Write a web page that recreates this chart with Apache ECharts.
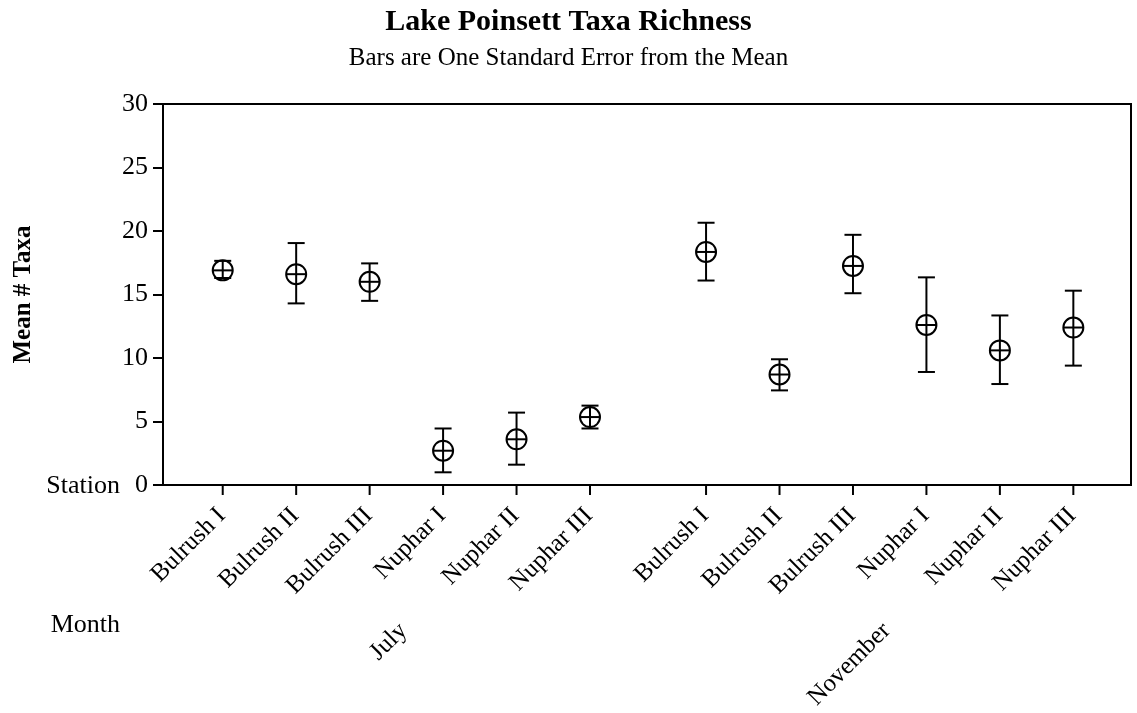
<!DOCTYPE html>
<html>
<head>
<meta charset="utf-8">
<script src="https://cdn.jsdelivr.net/npm/echarts@6/dist/echarts.min.js"></script>
<style>
  html, body { margin: 0; padding: 0; background: #fff; }
  #chart { width: 1137px; height: 713px; }
</style>
</head>
<body>
<div id="chart"></div>
<script>
// data
const months = ['July', 'November']
const stations = ['Bulrush I', 'Bulrush II', 'Bulrush III', 'Nuphar I', 'Nuphar II', 'Nuphar III']
const meanJuly = [16.9, 16.6, 16.0, 2.7, 3.6, 5.35]
const lowJuly = [16.3, 14.3, 14.5, 1.0, 1.6, 4.45]
const highJuly = [17.65, 19.05, 17.45, 4.45, 5.7, 6.25]
const meanNov = [18.35, 8.7, 17.25, 12.6, 10.6, 12.4]
const lowNov = [16.1, 7.45, 15.1, 8.9, 7.95, 9.4]
const highNov = [20.65, 9.9, 19.7, 16.35, 13.35, 15.3]
const yTicks = [0, 5, 10, 15, 20, 25, 30]

// where each month group starts on the x scale (groups have a gap between them)
const groupStart = [1, 7.58]

const FONT = '"Liberation Serif", "DejaVu Serif", serif'

let points = []
const groups = [[meanJuly, lowJuly, highJuly], [meanNov, lowNov, highNov]]
groups.forEach((g, gi) => {
  stations.forEach((s, i) => {
    points.push([groupStart[gi] + i, g[0][i], g[1][i], g[2][i], s])
  })
})
let monthPoints = months.map((m, gi) => [groupStart[gi] + (stations.length - 1) / 2, 0, m])

let chart = echarts.init(document.getElementById('chart'))
let option = {
  animation: false,
  backgroundColor: '#fff',
  title: {
    text: 'Lake Poinsett Taxa Richness',
    subtext: 'Bars are One Standard Error from the Mean',
    left: 'center',
    top: 2,
    itemGap: 9,
    textStyle: { fontFamily: FONT, fontWeight: 'bold', fontSize: 30, color: '#000' },
    subtextStyle: { fontFamily: FONT, fontSize: 25, color: '#000' }
  },
  grid: {
    left: 163,
    right: 6,
    top: 104,
    bottom: 228,
    show: true,
    borderColor: '#000',
    borderWidth: 2,
    backgroundColor: 'transparent'
  },
  xAxis: {
    type: 'value',
    min: 0.187,
    max: 13.365,
    axisLine: { show: true, lineStyle: { color: '#000', width: 2 } },
    axisTick: { show: false },
    axisLabel: { show: false },
    splitLine: { show: false }
  },
  yAxis: {
    type: 'value',
    min: yTicks[0],
    max: yTicks[yTicks.length - 1],
    interval: 5,
    name: 'Mean # Taxa',
    nameLocation: 'middle',
    nameGap: 127,
    nameTextStyle: { fontFamily: FONT, fontWeight: 'bold', fontSize: 25, color: '#000' },
    axisLine: { show: true, lineStyle: { color: '#000', width: 2 } },
    axisTick: { show: true, length: 10, lineStyle: { color: '#000', width: 2 } },
    axisLabel: { fontFamily: FONT, fontSize: 26, color: '#000', margin: 15 },
    splitLine: { show: false }
  },
  graphic: [
    { type: 'text', x: 120, y: 486, style: { text: 'Station', font: '26px ' + FONT, fill: '#000', align: 'right', verticalAlign: 'middle' } },
    { type: 'text', x: 120, y: 625, style: { text: 'Month', font: '26px ' + FONT, fill: '#000', align: 'right', verticalAlign: 'middle' } }
  ],
  series: [
    {
      type: 'custom',
      clip: false,
      data: points,
      renderItem: (params, api) => {
        let x = api.value(0)
        let c = api.coord([x, api.value(1)])
        let lo = api.coord([x, api.value(2)])
        let hi = api.coord([x, api.value(3)])
        let base = api.coord([x, 0])
        let ls = { stroke: '#000', lineWidth: 2, fill: null }
        let r = 10
        let cap = 8.5
        return {
          type: 'group',
          children: [
            { type: 'line', shape: { x1: c[0], y1: hi[1], x2: c[0], y2: lo[1] }, style: ls },
            { type: 'line', shape: { x1: c[0] - cap, y1: hi[1], x2: c[0] + cap, y2: hi[1] }, style: ls },
            { type: 'line', shape: { x1: c[0] - cap, y1: lo[1], x2: c[0] + cap, y2: lo[1] }, style: ls },
            { type: 'circle', shape: { cx: c[0], cy: c[1], r: r }, style: { stroke: '#000', lineWidth: 2, fill: 'none' } },
            { type: 'line', shape: { x1: c[0] - r, y1: c[1], x2: c[0] + r, y2: c[1] }, style: ls },
            { type: 'line', shape: { x1: base[0], y1: base[1], x2: base[0], y2: base[1] + 10 }, style: ls },
            {
              type: 'text',
              x: base[0] - 1,
              y: base[1] + 27,
              rotation: Math.PI / 4,
              style: {
                text: api.value(4),
                font: '25px ' + FONT,
                fill: '#000',
                align: 'right',
                verticalAlign: 'middle'
              }
            }
          ]
        }
      }
    },
    {
      type: 'custom',
      clip: false,
      data: monthPoints,
      renderItem: (params, api) => {
        let p = api.coord([api.value(0), api.value(1)])
        return {
          type: 'text',
          x: p[0] - 3,
          y: p[1] + 142,
          rotation: Math.PI / 4,
          style: {
            text: api.value(2),
            font: '25px ' + FONT,
            fill: '#000',
            align: 'right',
            verticalAlign: 'middle'
          }
        }
      }
    }
  ]
}
chart.setOption(option)
</script>
</body>
</html>
